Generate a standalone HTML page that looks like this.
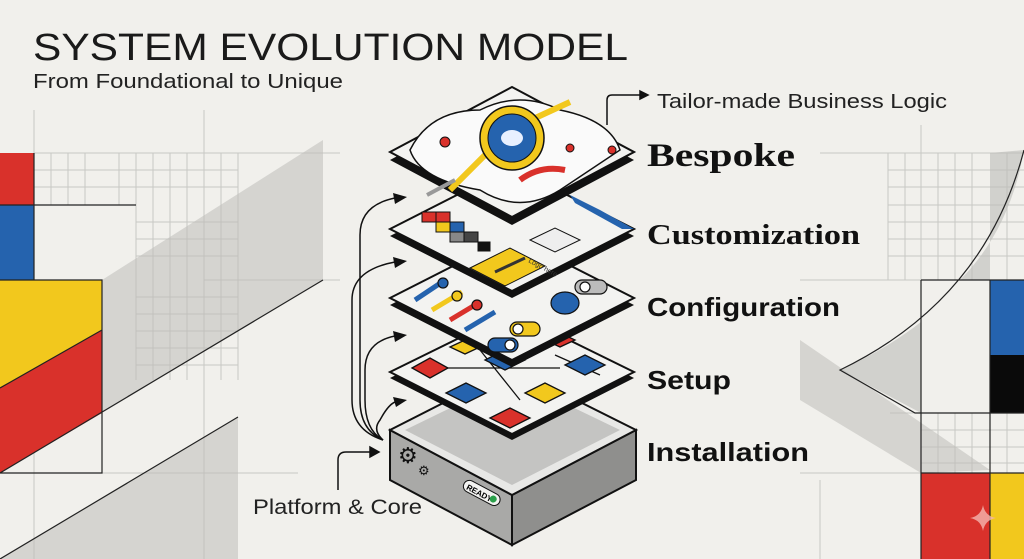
<!DOCTYPE html>
<html><head><meta charset="utf-8"><style>
html,body{margin:0;padding:0;background:#f1f0ec}
svg{display:block}
</style></head><body>
<svg width="1024" height="559" viewBox="0 0 1024 559" xmlns="http://www.w3.org/2000/svg" font-family="Liberation Sans, sans-serif">
<rect width="1024" height="559" fill="#f1f0ec"/>
<!-- left background -->
<g stroke="#c8c8c4" stroke-width="1" fill="none">
<line x1="34" y1="110" x2="34" y2="559"/><line x1="204" y1="110" x2="204" y2="559"/>
<line x1="34" y1="153" x2="340" y2="153"/><line x1="204" y1="280" x2="340" y2="280"/><line x1="102" y1="473" x2="298" y2="473"/>
<path d="M51 153V205M68 153V205M85 153V205M119 153V205M136 153V380M153 153V380M170 153V380M187 153V380M221 153V380M238 153V380M34 170H238M34 187H238M136 222H238M136 239H238M136 256H238M136 297H238M136 314H238M136 331H238M136 348H238M136 365H238"/>
</g>
<polygon points="102,280 323,140 323,280 102,413" fill="#bdbdb9" opacity="0.55"/>
<polygon points="0,559 238,417 238,559" fill="#bdbdb9" opacity="0.55"/>
<rect x="0" y="153" width="34" height="52" fill="#d9312b"/>
<rect x="0" y="205" width="34" height="75" fill="#2563ae"/>
<polygon points="0,280 102,280 102,330 0,388" fill="#f2c81d"/>
<polygon points="0,388 102,330 102,413 0,473" fill="#d9312b"/>
<g stroke="#222" stroke-width="1.2" fill="none">
<path d="M34 153V205M0 205H136M34 205V280M0 280H102V473H0M0 388L102 330M0 473L323 280M0 559L238 417"/>
</g>
<!-- right background -->
<g stroke="#c8c8c4" stroke-width="1" fill="none">
<line x1="921" y1="125" x2="921" y2="559"/><line x1="820" y1="153" x2="1024" y2="153"/>
<line x1="800" y1="280" x2="921" y2="280"/><line x1="890" y1="413" x2="1024" y2="413"/><line x1="800" y1="473" x2="921" y2="473"/><line x1="820" y1="480" x2="820" y2="559"/>
<path d="M888 153V280M905 153V280M938 153V280M955 153V280M972 153V280M1007 153V280M888 170H1024M888 187H1024M888 205H1024M888 222H1024M888 239H1024M888 256H1024M938 413V473M955 413V473M972 413V473M1007 413V473M921 430H1024M921 447H1024M921 463H1024"/>
</g>
<path d="M1024 150 Q1010 230 960 280 L990 280 L990 153Z" fill="#bdbdb9" opacity="0.6"/>
<path d="M921 322 Q885 350 840 370 L921 413Z" fill="#bdbdb9" opacity="0.6"/>
<polygon points="800,340 990,470 921,473 800,400" fill="#bdbdb9" opacity="0.55"/>
<rect x="990" y="280" width="34" height="75" fill="#2563ae"/>
<rect x="990" y="355" width="34" height="58" fill="#0a0a0a"/>
<rect x="921" y="473" width="69" height="86" fill="#d9312b"/>
<rect x="990" y="473" width="34" height="86" fill="#f2c81d"/>
<g stroke="#222" stroke-width="1.2" fill="none">
<path d="M1024 150 Q985 300 840 370 L915 413H1024M921 280H1024M990 280V559M921 280V559M921 473H1024"/>
</g>
<path d="M983 505 Q985 516 996 518 Q985 520 983 531 Q981 520 970 518 Q981 516 983 505Z" fill="#f4b6b0" opacity="0.8"/>

<!-- text -->
<text x="33" y="60" font-size="38" fill="#1a1a1a" textLength="595" lengthAdjust="spacingAndGlyphs">SYSTEM EVOLUTION MODEL</text>
<text x="33" y="88" font-size="20" fill="#222" textLength="310" lengthAdjust="spacingAndGlyphs">From Foundational to Unique</text>
<text x="657" y="108" font-size="20" fill="#222" textLength="290" lengthAdjust="spacingAndGlyphs">Tailor-made Business Logic</text>
<text x="647" y="166" font-size="33" font-weight="bold" font-family="Liberation Serif, serif" fill="#111" textLength="148" lengthAdjust="spacingAndGlyphs">Bespoke</text>
<text x="647" y="244" font-size="29" font-weight="bold" font-family="Liberation Serif, serif" fill="#111" textLength="213" lengthAdjust="spacingAndGlyphs">Customization</text>
<text x="647" y="316" font-size="26" font-weight="bold" fill="#111" textLength="193" lengthAdjust="spacingAndGlyphs">Configuration</text>
<text x="647" y="389" font-size="26" font-weight="bold" fill="#111" textLength="84" lengthAdjust="spacingAndGlyphs">Setup</text>
<text x="647" y="461" font-size="26" font-weight="bold" fill="#111" textLength="162" lengthAdjust="spacingAndGlyphs">Installation</text>
<text x="253" y="514" font-size="21" fill="#222" textLength="169" lengthAdjust="spacingAndGlyphs">Platform &amp; Core</text>

<!-- connectors -->
<g stroke="#111" stroke-width="1.5" fill="none">
<path d="M607 125 V100 Q607 95 612 95 H640"/>
<path d="M640 91 L648 95 L640 99Z" fill="#111"/>
<path d="M338 490 V460 Q338 452 346 452 H372"/>
<path d="M370 447 L379 452 L370 457Z" fill="#111"/>
<path d="M383 440 Q360 430 360 400 V235 Q360 205 395 198"/>
<path d="M383 440 Q352 430 352 400 V300 Q352 270 395 262"/>
<path d="M383 440 Q365 430 365 400 V370 Q365 342 395 336"/>
<path d="M383 440 Q372 430 380 420 Q388 405 395 402"/>
</g>
<g fill="#111"><path d="M393 193L407 197L395 204Z"/><path d="M393 257L407 261L395 268Z"/><path d="M393 331L407 335L395 342Z"/><path d="M393 397L407 400L396 407Z"/></g>

<!-- platform box -->
<polygon points="512,495 512,545 390,480 390,430" fill="#a9a9a7" stroke="#111" stroke-width="2"/>
<polygon points="512,495 512,545 636,480 636,430" fill="#8f8f8d" stroke="#111" stroke-width="2"/>
<polygon points="390,430 512,368 636,430 512,495" fill="#e8e8e6" stroke="#111" stroke-width="2"/>
<polygon points="405,430 512,378 620,430 512,485" fill="#c4c4c2"/>
<text x="398" y="463" font-size="22" fill="#111">⚙</text><text x="418" y="475" font-size="13" fill="#111">⚙</text>
<g transform="translate(480,492) rotate(28)"><rect x="-18" y="-6" width="40" height="12" rx="6" fill="#f3f3f1" stroke="#111"/><text x="-14" y="4" font-size="8" font-weight="bold">READY</text><circle cx="15" cy="0" r="3.5" fill="#2aa04a"/></g>

<!-- setup layer -->
<polygon points="390,378 512,318 634,378 512,440" fill="#111"/>
<polygon points="390,372 512,312 634,372 512,434" fill="#f3f3f1" stroke="#111" stroke-width="2"/>
<g stroke="#111" stroke-width="1.3">
<path d="M440 368 L560 368 M480 350 L520 400 M555 355 L600 375" fill="none"/>
<polygon points="412,368 430,358 448,368 430,378" fill="#d9312b"/>
<polygon points="446,393 466,383 486,393 466,403" fill="#2563ae"/>
<polygon points="490,418 510,408 530,418 510,428" fill="#d9312b"/>
<polygon points="485,360 505,350 525,360 505,370" fill="#2563ae"/>
<polygon points="525,393 545,383 565,393 545,403" fill="#f2c81d"/>
<polygon points="565,365 585,355 605,365 585,375" fill="#2563ae"/>
<polygon points="450,347 465,340 480,347 465,354" fill="#f2c81d"/>
<polygon points="545,340 560,333 575,340 560,347" fill="#d9312b"/>
</g>

<!-- configuration layer -->
<polygon points="390,305 512,243 634,305 512,367" fill="#111"/>
<polygon points="390,298 512,236 634,298 512,360" fill="#f3f3f1" stroke="#111" stroke-width="2"/>
<g stroke="#111" stroke-width="1.2">
<path d="M415 300 L445 280" stroke="#2563ae" stroke-width="5"/><circle cx="443" cy="283" r="5" fill="#2563ae"/>
<path d="M432 310 L462 292" stroke="#f2c81d" stroke-width="5"/><circle cx="457" cy="296" r="5" fill="#f2c81d"/>
<path d="M450 320 L480 302" stroke="#d9312b" stroke-width="5"/><circle cx="477" cy="305" r="5" fill="#d9312b"/>
<path d="M465 330 L495 312" stroke="#2563ae" stroke-width="5"/>
<ellipse cx="565" cy="303" rx="14" ry="11" fill="#2563ae"/>
<rect x="575" y="280" width="32" height="14" rx="7" fill="#bbb"/>
<rect x="510" y="322" width="30" height="14" rx="7" fill="#f2c81d"/>
<rect x="488" y="338" width="30" height="14" rx="7" fill="#2563ae"/>
<circle cx="518" cy="329" r="5" fill="#fff"/><circle cx="510" cy="345" r="5" fill="#fff"/><circle cx="585" cy="287" r="5" fill="#fff"/>
</g>

<!-- customization layer -->
<polygon points="390,236 512,174 634,236 512,298" fill="#111"/>
<polygon points="390,229 512,167 634,229 512,291" fill="#f3f3f1" stroke="#111" stroke-width="2"/>
<polygon points="570,195 600,210 634,229 622,229 575,203" fill="#2563ae"/>
<g stroke="#111" stroke-width="1">
<rect x="422" y="212" width="14" height="10" fill="#d9312b"/><rect x="436" y="212" width="14" height="10" fill="#d9312b"/>
<rect x="436" y="222" width="14" height="10" fill="#f2c81d"/><rect x="450" y="222" width="14" height="10" fill="#2563ae"/>
<rect x="450" y="232" width="14" height="10" fill="#888"/><rect x="464" y="232" width="14" height="10" fill="#444"/><rect x="478" y="242" width="12" height="9" fill="#111"/>
<polygon points="470,268 510,248 545,266 505,286" fill="#f2c81d"/>
<path d="M495 272 L525 258" stroke="#333" stroke-width="3"/>
<polygon points="530,240 555,228 580,240 555,252" fill="#eee"/>
</g>
<text x="528" y="262" font-size="7" fill="#333" transform="rotate(28 528 262)">Logo here</text>

<!-- bespoke layer -->
<polygon points="390,160 512,95 634,160 512,225" fill="#111"/>
<polygon points="390,152 512,87 634,152 512,217" fill="#f3f3f1" stroke="#111" stroke-width="2"/>
<path d="M410 150 Q430 110 480 110 Q520 90 560 110 Q610 120 620 150 Q590 170 560 190 Q520 215 480 190 Q420 180 410 150Z" fill="#fafafa" stroke="#111" stroke-width="1.5"/>
<path d="M520 180 Q540 165 565 170" stroke="#d9312b" stroke-width="6" fill="none"/>
<path d="M450 190 L490 150" stroke="#f2c81d" stroke-width="6"/>
<path d="M520 125 L570 102" stroke="#f2c81d" stroke-width="6"/>
<circle cx="512" cy="138" r="32" fill="#f2c81d" stroke="#111" stroke-width="1.5"/>
<circle cx="512" cy="138" r="24" fill="#2563ae" stroke="#111"/>
<ellipse cx="512" cy="138" rx="11" ry="8" fill="#e8f0ff"/>
<circle cx="445" cy="142" r="5" fill="#d9312b" stroke="#111"/>
<circle cx="570" cy="148" r="4" fill="#d9312b" stroke="#111"/>
<circle cx="612" cy="150" r="4" fill="#d9312b" stroke="#111"/>
<path d="M427 195 L455 180" stroke="#999" stroke-width="4"/>
</svg>
</body></html>
